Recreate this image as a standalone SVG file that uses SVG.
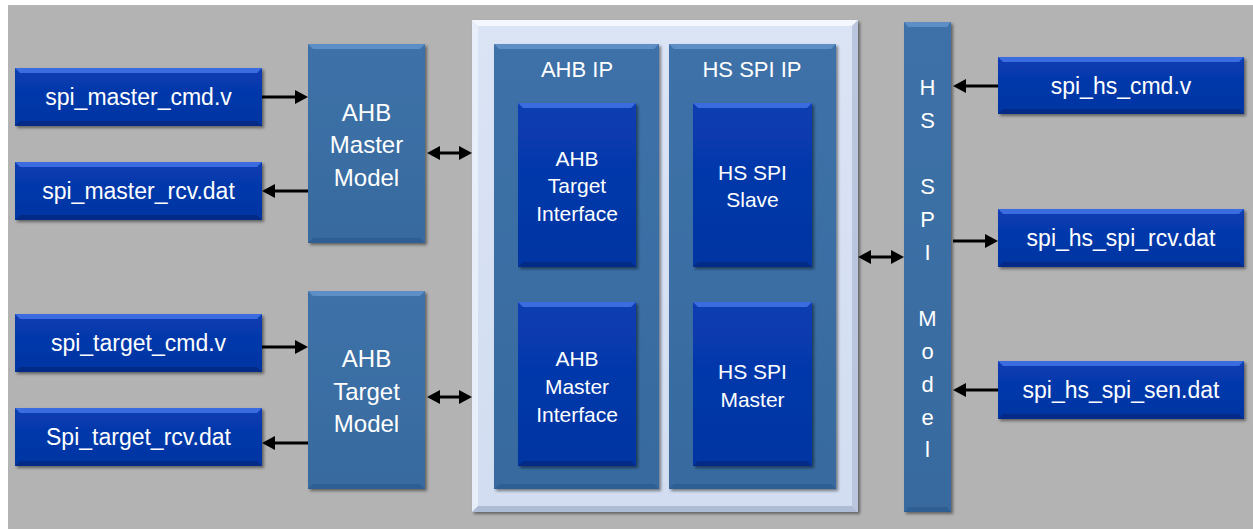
<svg xmlns="http://www.w3.org/2000/svg" width="1253" height="529" viewBox="0 0 1253 529">
<style>
.t{font-family:"Liberation Sans",Arial,sans-serif;fill:#ffffff;text-anchor:middle}
.f23{font-size:23px}
.f24{font-size:24px}
.f22{font-size:22px}
.f20{font-size:21px}
.db{fill:url(#gDark)}
.pn{fill:url(#gPanel)}
.ln{stroke:#000;stroke-width:3;fill:none}
</style>
<defs>
<linearGradient id="gDark" x1="0" y1="0" x2="0" y2="1">
<stop offset="0" stop-color="#083cb2"/><stop offset="1" stop-color="#0334a2"/>
</linearGradient>
<linearGradient id="gPanel" x1="0" y1="0" x2="0" y2="1">
<stop offset="0" stop-color="#3d71a8"/><stop offset="1" stop-color="#386b9f"/>
</linearGradient>
<linearGradient id="gCont" x1="0" y1="0" x2="0" y2="1">
<stop offset="0" stop-color="#dbe4f5"/><stop offset="1" stop-color="#d2ddf1"/>
</linearGradient>
<filter id="sh" x="-10%" y="-10%" width="130%" height="130%">
<feDropShadow dx="2" dy="2" stdDeviation="1.5" flood-color="#000" flood-opacity="0.45"/>
</filter>
<marker id="ah" markerUnits="userSpaceOnUse" markerWidth="13" markerHeight="14" viewBox="0 0 13 14" refX="2" refY="7" orient="auto-start-reverse">
<path d="M0,0 L13,7 L0,14 Z" fill="#000"/>
</marker>
</defs>
<rect x="0" y="0" width="1253" height="529" fill="#ffffff"/>
<rect x="8" y="5" width="1245" height="524" fill="#b3b3b3"/>

<g id="container">
<rect x="472" y="20" width="386" height="492" fill="url(#gCont)" filter="url(#sh)"/>
<polygon points="472,20 858,20 852,26 478,26" fill="#f4f7fd"/>
<polygon points="472,20 478,26 478,506 472,512" fill="#e8eefa"/>
<polygon points="858,20 858,512 852,506 852,26" fill="#b9c6dd"/>
<polygon points="472,512 858,512 852,506 478,506" fill="#aebcd6"/>
</g>

<g id="ahb_ip">
<rect class="pn" x="494" y="44" width="165" height="445" filter="url(#sh)"/>
<polygon points="494,44 659,44 654,49 499,49" fill="#5d8fc6"/>
<polygon points="494,489 659,489 654,484 499,484" fill="#2f5f92"/>
<text class="t f22" x="577" y="77">AHB IP</text>
</g>
<g id="hs_spi_ip">
<rect class="pn" x="669" y="44" width="167" height="445" filter="url(#sh)"/>
<polygon points="669,44 836,44 831,49 674,49" fill="#5d8fc6"/>
<polygon points="669,489 836,489 831,484 674,484" fill="#2f5f92"/>
<text class="t f22" x="752" y="77">HS SPI IP</text>
</g>

<g id="ahb_target_if">
<rect class="db" x="518" y="103" width="118" height="164" filter="url(#sh)"/>
<polygon points="518,103 636,103 631,108 523,108" fill="#3a6ce0"/>
<polygon points="518,267 636,267 631,262 523,262" fill="#022a86"/>
<text class="t f20"><tspan x="577" y="166">AHB</tspan><tspan x="577" y="193">Target</tspan><tspan x="577" y="221">Interface</tspan></text>
</g>
<g id="ahb_master_if">
<rect class="db" x="518" y="302" width="118" height="164" filter="url(#sh)"/>
<polygon points="518,302 636,302 631,307 523,307" fill="#3a6ce0"/>
<polygon points="518,466 636,466 631,461 523,461" fill="#022a86"/>
<text class="t f20"><tspan x="577" y="366">AHB</tspan><tspan x="577" y="394">Master</tspan><tspan x="577" y="422">Interface</tspan></text>
</g>
<g id="hs_spi_slave">
<rect class="db" x="693" y="103" width="119" height="164" filter="url(#sh)"/>
<polygon points="693,103 812,103 807,108 698,108" fill="#3a6ce0"/>
<polygon points="693,267 812,267 807,262 698,262" fill="#022a86"/>
<text class="t f20"><tspan x="752.5" y="180">HS SPI</tspan><tspan x="752.5" y="207">Slave</tspan></text>
</g>
<g id="hs_spi_master">
<rect class="db" x="693" y="302" width="119" height="164" filter="url(#sh)"/>
<polygon points="693,302 812,302 807,307 698,307" fill="#3a6ce0"/>
<polygon points="693,466 812,466 807,461 698,461" fill="#022a86"/>
<text class="t f20"><tspan x="752.5" y="379">HS SPI</tspan><tspan x="752.5" y="407">Master</tspan></text>
</g>

<g id="ahb_master_model">
<rect class="pn" x="308" y="44" width="117" height="199" filter="url(#sh)"/>
<polygon points="308,44 425,44 420,49 313,49" fill="#5d8fc6"/>
<polygon points="308,243 425,243 420,238 313,238" fill="#2f5f92"/>
<text class="t f24"><tspan x="366.5" y="121">AHB</tspan><tspan x="366.5" y="153">Master</tspan><tspan x="366.5" y="186">Model</tspan></text>
</g>
<g id="ahb_target_model">
<rect class="pn" x="308" y="291" width="117" height="198" filter="url(#sh)"/>
<polygon points="308,291 425,291 420,296 313,296" fill="#5d8fc6"/>
<polygon points="308,489 425,489 420,484 313,484" fill="#2f5f92"/>
<text class="t f24"><tspan x="366.5" y="367">AHB</tspan><tspan x="366.5" y="400">Target</tspan><tspan x="366.5" y="432">Model</tspan></text>
</g>

<g id="hs_spi_model">
<rect class="pn" x="904" y="22" width="47" height="490" filter="url(#sh)"/>
<polygon points="904,22 951,22 947,27 908,27" fill="#5d8fc6"/>
<polygon points="904,512 951,512 947,507 908,507" fill="#2f5f92"/>
<text class="t f22"><tspan x="927.5" y="95">H</tspan><tspan x="927.5" y="128">S</tspan><tspan x="927.5" y="194">S</tspan><tspan x="927.5" y="227">P</tspan><tspan x="927.5" y="260">I</tspan><tspan x="927.5" y="326">M</tspan><tspan x="927.5" y="359">o</tspan><tspan x="927.5" y="392">d</tspan><tspan x="927.5" y="425">e</tspan><tspan x="927.5" y="457">l</tspan></text>
</g>

<g id="spi_master_cmd">
<rect class="db" x="15" y="68" width="247" height="58" filter="url(#sh)"/>
<polygon points="15,68 262,68 257,73 20,73" fill="#3a6ce0"/>
<polygon points="15,126 262,126 257,121 20,121" fill="#022a86"/>
<text class="t f23" x="138.5" y="105">spi_master_cmd.v</text>
</g>
<g id="spi_master_rcv">
<rect class="db" x="15" y="162" width="247" height="58" filter="url(#sh)"/>
<polygon points="15,162 262,162 257,167 20,167" fill="#3a6ce0"/>
<polygon points="15,220 262,220 257,215 20,215" fill="#022a86"/>
<text class="t f23" x="138.5" y="199">spi_master_rcv.dat</text>
</g>
<g id="spi_target_cmd">
<rect class="db" x="15" y="314" width="247" height="58" filter="url(#sh)"/>
<polygon points="15,314 262,314 257,319 20,319" fill="#3a6ce0"/>
<polygon points="15,372 262,372 257,367 20,367" fill="#022a86"/>
<text class="t f23" x="138.5" y="351">spi_target_cmd.v</text>
</g>
<g id="spi_target_rcv">
<rect class="db" x="15" y="408" width="247" height="58" filter="url(#sh)"/>
<polygon points="15,408 262,408 257,413 20,413" fill="#3a6ce0"/>
<polygon points="15,466 262,466 257,461 20,461" fill="#022a86"/>
<text class="t f23" x="138.5" y="445">Spi_target_rcv.dat</text>
</g>

<g id="spi_hs_cmd">
<rect class="db" x="998" y="57" width="246" height="57" filter="url(#sh)"/>
<polygon points="998,57 1244,57 1239,62 1003,62" fill="#3a6ce0"/>
<polygon points="998,114 1244,114 1239,109 1003,109" fill="#022a86"/>
<text class="t f23" x="1121" y="94">spi_hs_cmd.v</text>
</g>
<g id="spi_hs_spi_rcv">
<rect class="db" x="998" y="209" width="246" height="58" filter="url(#sh)"/>
<polygon points="998,209 1244,209 1239,214 1003,214" fill="#3a6ce0"/>
<polygon points="998,267 1244,267 1239,262 1003,262" fill="#022a86"/>
<text class="t f23" x="1121" y="246">spi_hs_spi_rcv.dat</text>
</g>
<g id="spi_hs_spi_sen">
<rect class="db" x="998" y="361" width="246" height="58" filter="url(#sh)"/>
<polygon points="998,361 1244,361 1239,366 1003,366" fill="#3a6ce0"/>
<polygon points="998,419 1244,419 1239,414 1003,414" fill="#022a86"/>
<text class="t f23" x="1121" y="398">spi_hs_spi_sen.dat</text>
</g>

<g id="connectors">
<line class="ln" x1="262" y1="97" x2="297" y2="97" marker-end="url(#ah)"/>
<line class="ln" x1="308" y1="191" x2="273" y2="191" marker-end="url(#ah)"/>
<line class="ln" x1="438" y1="153" x2="461" y2="153" marker-start="url(#ah)" marker-end="url(#ah)"/>
<line class="ln" x1="262" y1="347" x2="297" y2="347" marker-end="url(#ah)"/>
<line class="ln" x1="308" y1="443" x2="273" y2="443" marker-end="url(#ah)"/>
<line class="ln" x1="438" y1="397" x2="461" y2="397" marker-start="url(#ah)" marker-end="url(#ah)"/>
<line class="ln" x1="869" y1="257" x2="893" y2="257" marker-start="url(#ah)" marker-end="url(#ah)"/>
<line class="ln" x1="998" y1="86" x2="964" y2="86" marker-end="url(#ah)"/>
<line class="ln" x1="953" y1="241" x2="987" y2="241" marker-end="url(#ah)"/>
<line class="ln" x1="998" y1="390" x2="964" y2="390" marker-end="url(#ah)"/>
</g>
</svg>
